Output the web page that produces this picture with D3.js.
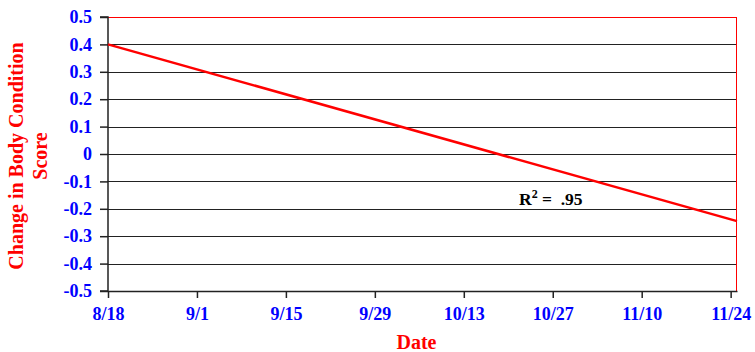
<!DOCTYPE html>
<html>
<head>
<meta charset="utf-8">
<script src="https://cdn.jsdelivr.net/npm/d3@7"></script>
<style>
  body { margin: 0; background: #fff; }
  text { font-family: "Liberation Serif", "Times New Roman", serif; font-weight: bold; }
</style>
</head>
<body>
<div id="chart"></div>
<script>
// data
var tickDates = ["8/18", "9/1", "9/15", "9/29", "10/13", "10/27", "11/10", "11/24"];
var lineDates = ["8/18", "11/25"];
var lineValues = [0.40, -0.245];
var yTicks = [0.5, 0.4, 0.3, 0.2, 0.1, 0, -0.1, -0.2, -0.3, -0.4, -0.5];
var rSquared = ".95";

var parse = function(s) { var p = s.split("/"); return new Date(2001, +p[0] - 1, +p[1]); };

var margin = { top: 17, right: 18, bottom: 61, left: 108 };
var width = 755 - margin.left - margin.right,
    height = 352 - margin.top - margin.bottom;

var svg = d3.select("#chart").append("svg")
    .attr("width", 755)
    .attr("height", 352)
  .append("g")
    .attr("transform", "translate(" + margin.left + "," + margin.top + ")");

var x = d3.scaleTime()
    .domain([parse("8/18"), parse("11/25")])
    .range([0, width]);

var y = d3.scaleLinear()
    .domain([-0.5, 0.5])
    .range([height, 0]);

// gridlines
svg.selectAll(".grid").data(yTicks.filter(function(d) { return d !== 0.5 && d !== -0.5; }))
  .enter().append("line")
    .attr("class", "grid")
    .attr("x1", 0).attr("x2", width)
    .attr("y1", function(d) { return Math.round(y(d)) + 0.5; })
    .attr("y2", function(d) { return Math.round(y(d)) + 0.5; })
    .attr("stroke", "#222").attr("stroke-width", 1);

// top + right border in red
svg.append("line").attr("x1", 0).attr("x2", width).attr("y1", 0.5).attr("y2", 0.5)
    .attr("stroke", "red").attr("stroke-width", 1);
svg.append("line").attr("x1", width - 0.5).attr("x2", width - 0.5).attr("y1", 0).attr("y2", height)
    .attr("stroke", "red").attr("stroke-width", 1);

// axes
var yAxis = d3.axisLeft(y)
    .tickValues(yTicks)
    .tickSize(8)
    .tickPadding(8)
    .tickFormat(function(d) { return d === 0 ? "0" : d3.format(".1f")(d).replace("\u2212", "-"); });

var xAxis = d3.axisBottom(x)
    .tickValues(tickDates.map(parse))
    .tickSize(7)
    .tickSizeOuter(0)
    .tickPadding(9)
    .tickFormat(function(d, i) { return tickDates[i]; });

var gy = svg.append("g").attr("class", "y-axis").call(yAxis);
var gx = svg.append("g").attr("class", "x-axis")
    .attr("transform", "translate(0," + height + ")").call(xAxis);

[gx, gy].forEach(function(g) {
  g.attr("font-family", "Liberation Serif, serif").attr("font-size", 18);
  g.select(".domain").attr("stroke", "#222").attr("stroke-width", 1.5);
  g.selectAll(".tick line").attr("stroke", "#222").attr("stroke-width", 1.5);
  g.selectAll(".tick text").attr("fill", "#0000ff");
});
gy.selectAll(".domain").attr("d", "M-8," + height + "H0V0H-8");

// trend line
var lineData = lineDates.map(function(d, i) { return { date: parse(d), value: lineValues[i] }; });
svg.append("path")
    .datum(lineData)
    .attr("fill", "none")
    .attr("stroke", "#ff0000")
    .attr("stroke-width", 2.5)
    .attr("d", d3.line()
      .x(function(d) { return x(d.date); })
      .y(function(d) { return y(d.value); }));

// R squared label
var rt = svg.append("text")
    .attr("x", 411).attr("y", 188)
    .style("font-size", "17.5px")
    .attr("fill", "#000");
rt.append("tspan").text("R");
rt.append("tspan").attr("dy", -7).style("font-size", "12px").text("2");
rt.append("tspan").attr("dy", 7).attr("xml:space", "preserve").text(" =  " + rSquared);

// axis titles
svg.append("text")
    .attr("x", width / 2 - 6).attr("y", height + 58)
    .attr("text-anchor", "middle")
    .attr("fill", "#ff0000")
    .style("font-size", "20px")
    .text("Date");

var yt = svg.append("text")
    .attr("transform", "translate(" + (-85) + "," + (height / 2 + 2) + ") rotate(-90)")
    .attr("text-anchor", "middle")
    .attr("fill", "#ff0000")
    .style("font-size", "20px");
yt.append("tspan").attr("x", 0).attr("y", 0).text("Change in Body Condition");
yt.append("tspan").attr("x", 0).attr("y", 24).text("Score");
</script>
</body>
</html>
